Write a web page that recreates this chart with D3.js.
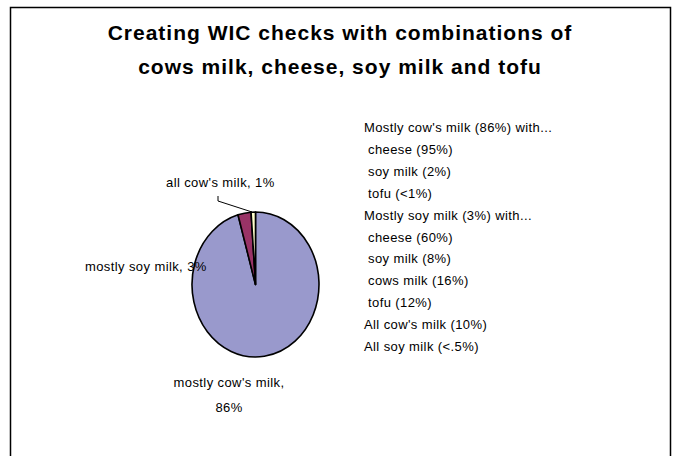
<!DOCTYPE html>
<html><head><meta charset="utf-8">
<script src="https://cdn.jsdelivr.net/npm/d3@7"></script>
<style>body{margin:0;background:#fff}svg{display:block}text{font-family:"Liberation Sans",Arial,sans-serif}</style>
</head><body><svg id="c" width="673" height="456"></svg>
<script>
const titleLines = ["Creating WIC checks with combinations of", "cows milk, cheese, soy milk and tofu"];
const categories = ["mostly cow's milk", "mostly soy milk", "all cow's milk"];
const values = [86, 3, 1];
const colors = ["#9999cc", "#993366", "#ffffcc"];
const noteLines = [
  "Mostly cow's milk (86%) with...",
  " cheese (95%)",
  " soy milk (2%)",
  " tofu (<1%)",
  "Mostly soy milk (3%) with...",
  " cheese (60%)",
  " soy milk (8%)",
  " cows milk (16%)",
  " tofu (12%)",
  "All cow's milk (10%)",
  "All soy milk (<.5%)"
];

const svg = d3.select("#c");
svg.append("rect").attr("x",10.5).attr("y",7.5).attr("width",660).attr("height",460)
  .attr("fill","#fff").attr("stroke","#000").attr("stroke-width",1.5);

svg.append("g").selectAll("text").data(titleLines).join("text")
  .attr("x",340).attr("y",(d,i)=>40+i*34).attr("text-anchor","middle")
  .attr("font-size",21).attr("font-weight","bold").attr("letter-spacing",1).text(d=>d);

const cx=255.5, cy=284.5, rx=63.5, ry=72.5;
const pie = d3.pie().sort(null).value(d=>d)(values);
const arc = d3.arc().innerRadius(0).outerRadius(rx);
const g = svg.append("g").attr("transform",`translate(${cx},${cy}) scale(1,${ry/rx})`);
g.selectAll("path").data(pie).join("path")
  .attr("d",arc).attr("fill",(d,i)=>colors[i])
  .attr("stroke","#000").attr("stroke-width",1.6).attr("vector-effect","non-scaling-stroke")
  .attr("stroke-linejoin","round");

// labels
const lab = svg.append("g").attr("font-size",13).attr("letter-spacing",0.4).attr("fill","#000");
lab.append("text").attr("x",229).attr("y",387).attr("text-anchor","middle").text(categories[0]+",");
lab.append("text").attr("x",229).attr("y",412).attr("text-anchor","middle").text(values[0]+"%");
lab.append("text").attr("x",85).attr("y",271).text(categories[1]+", "+values[1]+"%");
lab.append("text").attr("x",166).attr("y",187).text(categories[2]+", "+values[2]+"%");
svg.append("path").attr("d","M218,196V201L252,212").attr("fill","none").attr("stroke","#000").attr("stroke-width",1);

// notes
svg.append("g").attr("font-size",13).attr("letter-spacing",0.4).selectAll("text").data(noteLines).join("text")
  .attr("x",d=>d.startsWith(" ")?368:364).attr("y",(d,i)=>132+i*21.9)
  .text(d=>d.trim());
</script></body></html>
